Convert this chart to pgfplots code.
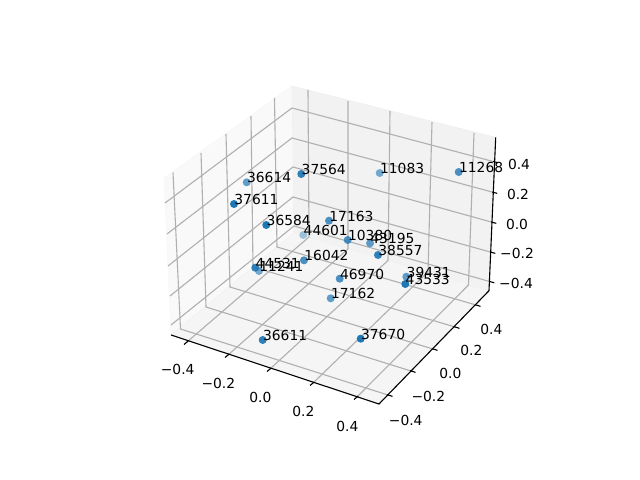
\documentclass[border=0pt]{standalone}
\usepackage{fontspec}
\setmainfont{DejaVu Sans}
\usepackage{pgfplots}
\pgfplotsset{compat=1.18}
\usepackage{pgfplotstable}
% Values in its own pixel frame (x right, y down):
% a 3D point's data coordinates cannot be recovered from its single projection.
\pgfplotstableread{
x y name
234 204 37611
266.3 225 36584
405.3 284 43533
360.7 338.7 37670
}\ptsA
\pgfplotstableread{
x y name
301.3 174 37564
378 255 38557
255.3 267.7 44531
262.7 340 36611
}\ptsB
\pgfplotstableread{
x y name
458.7 172 11268
329 220.7 17163
339.7 278.7 46970
347.7 240 10380
304 260.3 16042
}\ptsC
\pgfplotstableread{
x y name
246.7 182.3 36614
370 243.3 43195
406.3 276.7 39431
330.7 298.3 17162
}\ptsD
\pgfplotstableread{
x y name
379.7 173 11083
259 271 11241
}\ptsE
\pgfplotstableread{
x y name
303.3 235 44601
}\ptsF
\definecolor{mplblue}{HTML}{1F77B4}
\definecolor{gridc}{HTML}{B0B0B0}
\newcommand{\pts}[2]{\addplot[only marks,color=mplblue,mark=*,mark size=2.9pt,
  mark options={draw=mplblue,fill=mplblue,draw opacity=0,fill opacity=#2,line width=0pt},
  point meta=explicit symbolic,
  nodes near coords,
  nodes near coords style={anchor=base west,inner sep=0pt,text=black,text opacity=1,xshift=0.3pt,yshift=-0.5pt,font=\fontsize{10}{12}\selectfont}]
  table[x=x,y=y,meta=name]{#1};}
\newcommand{\gl}[1]{\addplot[mark=none,color=gridc,line width=0.8pt] coordinates {#1};}
\newcommand{\tk}[1]{\addplot[mark=none,color=black,line width=0.8pt] coordinates {#1};}
\newcommand{\lb}[2]{\node[font=\fontsize{10}{12}\selectfont,inner sep=0pt] at (axis cs:#1) {#2};}
\begin{document}
\begin{tikzpicture}
\begin{axis}[
  scale only axis,width=6.4in,height=4.8in,
  xmin=0,xmax=640,ymin=0,ymax=480,y dir=reverse,
  hide axis,clip=false,
]
\addplot[draw=none,mark=none,forget plot] coordinates {(0,0) (640,480)};
% panes
\addplot[mark=none,fill=black!2.5,draw=black!3] coordinates {(164,178) (292,86) (294,233) (171,335)} --cycle;
\addplot[mark=none,fill=black!5,draw=black!6] coordinates {(292,86) (495.7,137.3) (489,290.7) (294,233)} --cycle;
\addplot[mark=none,fill=black!3.8,draw=black!5] coordinates {(171,335) (294,233) (489,290.7) (379,404)} --cycle;
% x grid
\gl{(187,342) (309,237) (308,90)}
\gl{(228,355) (348,249) (348,101)}
\gl{(270,369) (388,260.5) (390,111)}
\gl{(313,383) (428,272) (432,122)}
\gl{(357,397) (468.5,285) (474,133)}
% y grid
\gl{(388,395) (180.5,329) (173,172.5)}
\gl{(411,371) (206,307) (201,153)}
\gl{(433,349) (230,287) (226,134)}
\gl{(455,327) (253,267) (251,116)}
\gl{(476,305) (277,247) (274.5,98)}
% z grid
\gl{(165,203) (292,108) (494,161.7)}
\gl{(167,234) (292,138) (493.2,192.3)}
\gl{(168,266) (293,167) (492.3,222.3)}
\gl{(170,296) (293,197) (491.3,252.3)}
\gl{(171,325) (294,226) (490.3,281.7)}
% spines
\tk{(171,335) (379,404) (489,290.7) (495.7,137.3)}
% ticks
\tk{(188.2,341) (184,344.5)}
\tk{(229.2,354) (225,357.5)}
\tk{(271.2,368) (267,371.5)}
\tk{(314.2,382) (310,385.5)}
\tk{(358.2,396) (354,399.5)}
\tk{(387,394.6) (392.5,396.4)}
\tk{(410,370.6) (415.5,372.4)}
\tk{(432,348.6) (437.5,350.4)}
\tk{(454,326.6) (459.5,328.4)}
\tk{(475,304.6) (480.5,306.4)}
\tk{(493,161.4) (498,162.8)}
\tk{(492.2,192) (497.2,193.4)}
\tk{(491.3,222) (496.3,223.4)}
\tk{(490.3,252) (495.3,253.4)}
\tk{(489.3,281.4) (494.3,282.8)}
% tick labels
\lb{177.7,369.3}{−0.4}
\lb{218.3,383.3}{−0.2}
\lb{260.3,397.3}{0.0}
\lb{303.3,411}{0.2}
\lb{347.3,426.3}{0.4}
\lb{405.7,420.3}{−0.4}
\lb{428.3,396.3}{−0.2}
\lb{450.3,373.3}{0.0}
\lb{471.3,350.3}{0.2}
\lb{491.3,329.3}{0.4}
\lb{519,164}{0.4}
\lb{518,194}{0.2}
\lb{517,224}{0.0}
\lb{517,253}{−0.2}
\lb{516,283}{−0.4}
% points
\pts{\ptsF}{0.4}
\pts{\ptsE}{0.6}
\pts{\ptsD}{0.7}
\pts{\ptsC}{0.8}
\pts{\ptsB}{0.92}
\pts{\ptsA}{1}
\end{axis}
\end{tikzpicture}
\end{document}
